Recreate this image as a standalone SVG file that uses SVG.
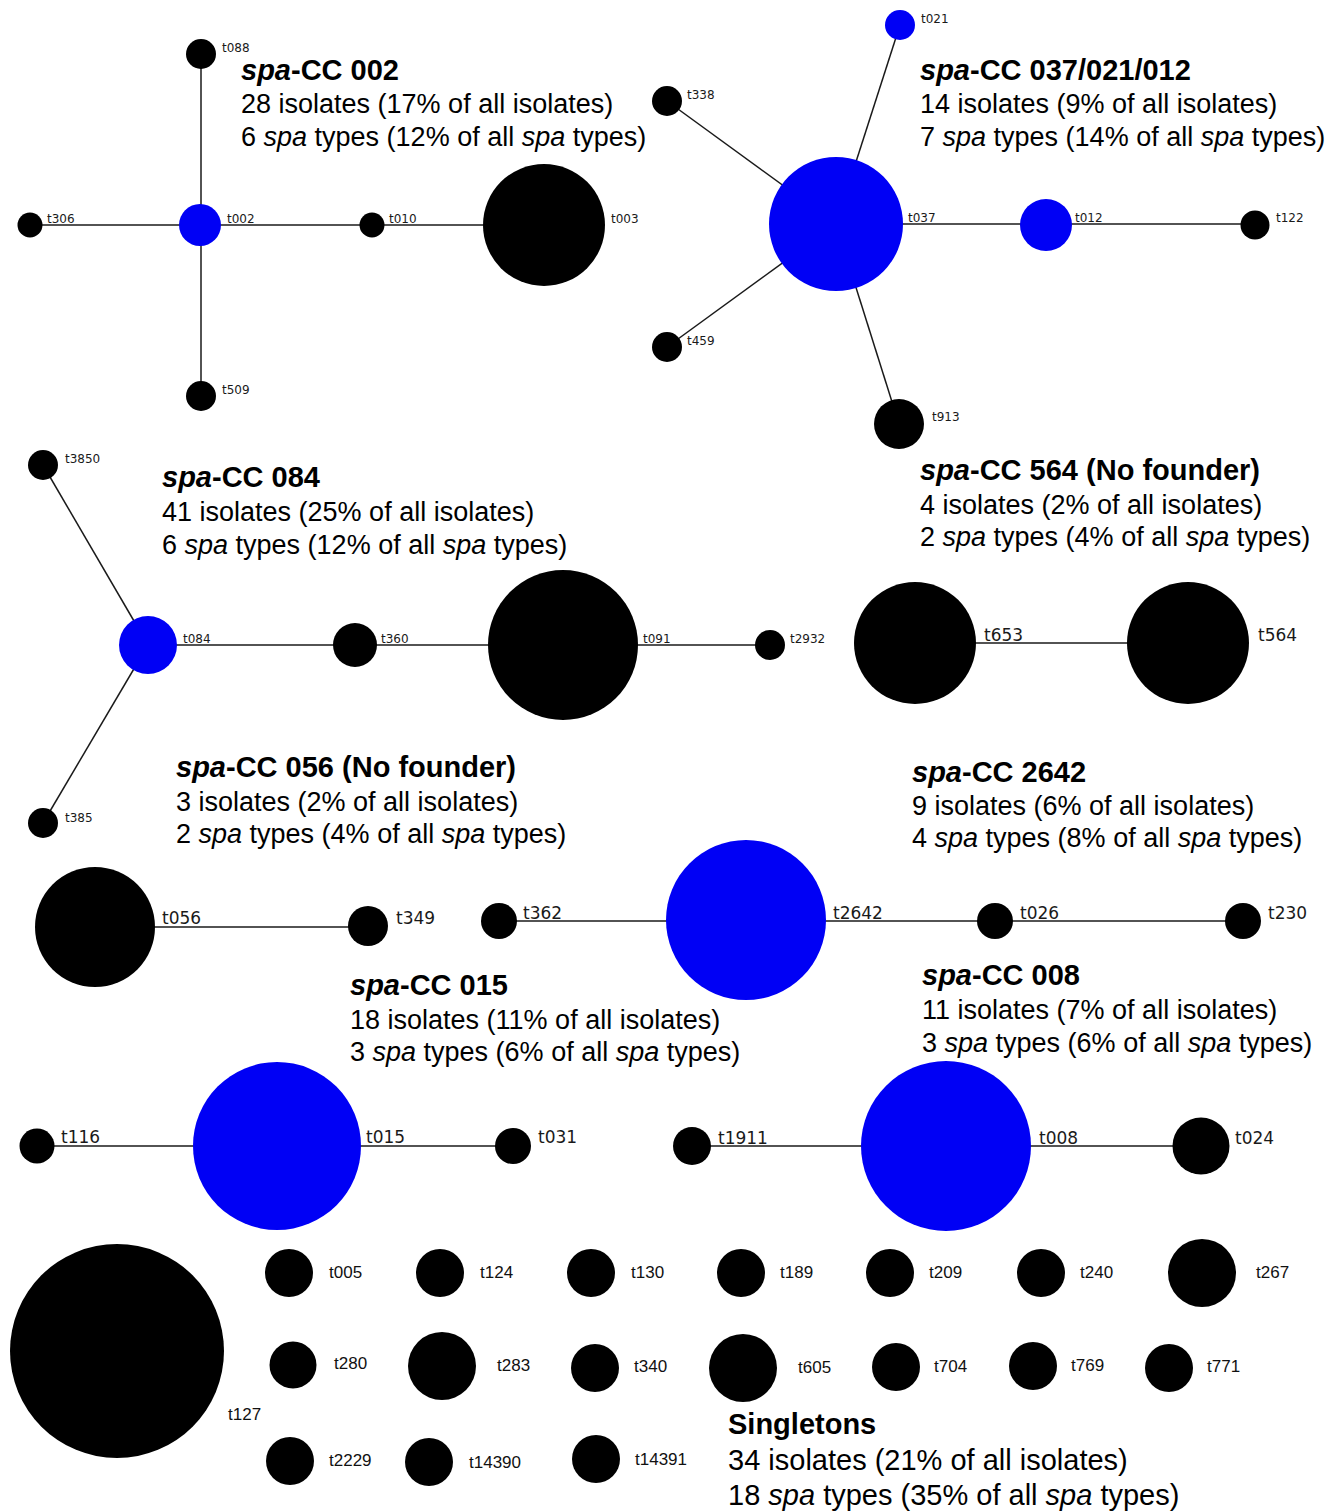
<svg xmlns="http://www.w3.org/2000/svg" width="1329" height="1512" viewBox="0 0 1329 1512">
<style>
.k{fill:#000}
.b{fill:#0000f5}
.e{stroke:#1a1a1a;stroke-width:1.5;fill:none}
.ls{font-family:"DejaVu Sans",Verdana,sans-serif;font-size:12px;fill:#1a1a1a}
.lm{font-family:"DejaVu Sans",Verdana,sans-serif;font-size:17px;fill:#1a1a1a}
.lg{font-family:"Liberation Sans",Arial,sans-serif;font-size:17px;fill:#111}
.t{font-family:"Liberation Sans",Arial,sans-serif;font-size:29px;font-weight:bold;fill:#000}
.d{font-family:"Liberation Sans",Arial,sans-serif;font-size:27px;fill:#000}
.d2{font-family:"Liberation Sans",Arial,sans-serif;font-size:29px;fill:#000}
.i{font-style:italic}
</style>
<rect width="1329" height="1512" fill="#fff"/>

<g id="connectors">
  <!-- spa-CC 002 -->
  <path class="e" d="M201,54 V396"/>
  <path class="e" d="M30,225 H544"/>
  <!-- spa-CC 037/021/012 -->
  <path class="e" d="M836,224 L900,25"/>
  <path class="e" d="M836,224 L667,101"/>
  <path class="e" d="M836,224 L667,347"/>
  <path class="e" d="M836,224 L899,424"/>
  <path class="e" d="M836,224 H1255"/>
  <!-- spa-CC 084 -->
  <path class="e" d="M148,645 L43,465"/>
  <path class="e" d="M148,645 L43,823"/>
  <path class="e" d="M148,645 H770"/>
  <!-- spa-CC 564 -->
  <path class="e" d="M915,643 H1188"/>
  <!-- spa-CC 056 -->
  <path class="e" d="M95,927 H368"/>
  <!-- spa-CC 2642 -->
  <path class="e" d="M499,921 H1243"/>
  <!-- spa-CC 015 -->
  <path class="e" d="M37,1146 H513"/>
  <!-- spa-CC 008 -->
  <path class="e" d="M692,1146 H1201"/>
</g>

<!-- spa-CC 002 -->
<g id="t088"><circle class="k" cx="201" cy="54" r="15"/><text class="ls" x="222" y="52">t088</text></g>
<g id="t306"><circle class="k" cx="30" cy="225" r="12.5"/><text class="ls" x="47" y="223">t306</text></g>
<g id="t002"><circle class="b" cx="200" cy="225" r="21"/><text class="ls" x="227" y="223">t002</text></g>
<g id="t010"><circle class="k" cx="372" cy="225" r="12.5"/><text class="ls" x="389" y="223">t010</text></g>
<g id="t003"><circle class="k" cx="544" cy="225" r="61"/><text class="ls" x="611" y="223">t003</text></g>
<g id="t509"><circle class="k" cx="201" cy="396" r="15"/><text class="ls" x="222" y="394">t509</text></g>
<g id="label-cc002">
  <text class="t" x="241" y="80"><tspan class="i">spa</tspan>-CC 002</text>
  <text class="d" x="241" y="113">28 isolates (17% of all isolates)</text>
  <text class="d" x="241" y="146">6 <tspan class="i">spa</tspan> types (12% of all <tspan class="i">spa</tspan> types)</text>
</g>

<!-- spa-CC 037/021/012 -->
<g id="t021"><circle class="b" cx="900" cy="25" r="15"/><text class="ls" x="921" y="23">t021</text></g>
<g id="t338"><circle class="k" cx="667" cy="101" r="15"/><text class="ls" x="687" y="99">t338</text></g>
<g id="t037"><circle class="b" cx="836" cy="224" r="67"/><text class="ls" x="908" y="222">t037</text></g>
<g id="t012"><circle class="b" cx="1046" cy="225" r="26"/><text class="ls" x="1075" y="222">t012</text></g>
<g id="t122"><circle class="k" cx="1255" cy="225" r="14.5"/><text class="ls" x="1276" y="222">t122</text></g>
<g id="t459"><circle class="k" cx="667" cy="347" r="15"/><text class="ls" x="687" y="345">t459</text></g>
<g id="t913"><circle class="k" cx="899" cy="424" r="25"/><text class="ls" x="932" y="421">t913</text></g>
<g id="label-cc037">
  <text class="t" x="920" y="80"><tspan class="i">spa</tspan>-CC 037/021/012</text>
  <text class="d" x="920" y="113">14 isolates (9% of all isolates)</text>
  <text class="d" x="920" y="146">7 <tspan class="i">spa</tspan> types (14% of all <tspan class="i">spa</tspan> types)</text>
</g>

<!-- spa-CC 084 -->
<g id="t3850"><circle class="k" cx="43" cy="465" r="15"/><text class="ls" x="65" y="463">t3850</text></g>
<g id="t084"><circle class="b" cx="148" cy="645" r="29"/><text class="ls" x="183" y="643">t084</text></g>
<g id="t360"><circle class="k" cx="355" cy="645" r="22"/><text class="ls" x="381" y="643">t360</text></g>
<g id="t091"><circle class="k" cx="563" cy="645" r="75"/><text class="ls" x="643" y="643">t091</text></g>
<g id="t2932"><circle class="k" cx="770" cy="645" r="15"/><text class="ls" x="790" y="643">t2932</text></g>
<g id="t385"><circle class="k" cx="43" cy="823" r="15"/><text class="ls" x="65" y="822">t385</text></g>
<g id="label-cc084">
  <text class="t" x="162" y="487"><tspan class="i">spa</tspan>-CC 084</text>
  <text class="d" x="162" y="521">41 isolates (25% of all isolates)</text>
  <text class="d" x="162" y="554">6 <tspan class="i">spa</tspan> types (12% of all <tspan class="i">spa</tspan> types)</text>
</g>

<!-- spa-CC 564 -->
<g id="t653"><circle class="k" cx="915" cy="643" r="61"/><text class="lm" x="984" y="641">t653</text></g>
<g id="t564"><circle class="k" cx="1188" cy="643" r="61"/><text class="lm" x="1258" y="641">t564</text></g>
<g id="label-cc564">
  <text class="t" x="920" y="480"><tspan class="i">spa</tspan>-CC 564 (No founder)</text>
  <text class="d" x="920" y="514">4 isolates (2% of all isolates)</text>
  <text class="d" x="920" y="546">2 <tspan class="i">spa</tspan> types (4% of all <tspan class="i">spa</tspan> types)</text>
</g>

<!-- spa-CC 056 -->
<g id="t056"><circle class="k" cx="95" cy="927" r="60"/><text class="lm" x="162" y="924">t056</text></g>
<g id="t349"><circle class="k" cx="368" cy="926" r="20"/><text class="lm" x="396" y="924">t349</text></g>
<g id="label-cc056">
  <text class="t" x="176" y="777"><tspan class="i">spa</tspan>-CC 056 (No founder)</text>
  <text class="d" x="176" y="811">3 isolates (2% of all isolates)</text>
  <text class="d" x="176" y="843">2 <tspan class="i">spa</tspan> types (4% of all <tspan class="i">spa</tspan> types)</text>
</g>

<!-- spa-CC 2642 -->
<g id="t362"><circle class="k" cx="499" cy="921" r="18"/><text class="lm" x="523" y="919">t362</text></g>
<g id="t2642"><circle class="b" cx="746" cy="920" r="80"/><text class="lm" x="833" y="919">t2642</text></g>
<g id="t026"><circle class="k" cx="995" cy="921" r="18"/><text class="lm" x="1020" y="919">t026</text></g>
<g id="t230"><circle class="k" cx="1243" cy="921" r="18"/><text class="lm" x="1268" y="919">t230</text></g>
<g id="label-cc2642">
  <text class="t" x="912" y="782"><tspan class="i">spa</tspan>-CC 2642</text>
  <text class="d" x="912" y="815">9 isolates (6% of all isolates)</text>
  <text class="d" x="912" y="847">4 <tspan class="i">spa</tspan> types (8% of all <tspan class="i">spa</tspan> types)</text>
</g>

<!-- spa-CC 015 -->
<g id="t116"><circle class="k" cx="37" cy="1146" r="17.5"/><text class="lm" x="61" y="1143">t116</text></g>
<g id="t015"><circle class="b" cx="277" cy="1146" r="84"/><text class="lm" x="366" y="1143">t015</text></g>
<g id="t031"><circle class="k" cx="513" cy="1146" r="18"/><text class="lm" x="538" y="1143">t031</text></g>
<g id="label-cc015">
  <text class="t" x="350" y="995"><tspan class="i">spa</tspan>-CC 015</text>
  <text class="d" x="350" y="1029">18 isolates (11% of all isolates)</text>
  <text class="d" x="350" y="1061">3 <tspan class="i">spa</tspan> types (6% of all <tspan class="i">spa</tspan> types)</text>
</g>

<!-- spa-CC 008 -->
<g id="t1911"><circle class="k" cx="692" cy="1146" r="19"/><text class="lm" x="718" y="1144">t1911</text></g>
<g id="t008"><circle class="b" cx="946" cy="1146" r="85"/><text class="lm" x="1039" y="1144">t008</text></g>
<g id="t024"><circle class="k" cx="1201" cy="1146" r="28.5"/><text class="lm" x="1235" y="1144">t024</text></g>
<g id="label-cc008">
  <text class="t" x="922" y="985"><tspan class="i">spa</tspan>-CC 008</text>
  <text class="d" x="922" y="1019">11 isolates (7% of all isolates)</text>
  <text class="d" x="922" y="1052">3 <tspan class="i">spa</tspan> types (6% of all <tspan class="i">spa</tspan> types)</text>
</g>

<!-- Singletons -->
<g id="t127"><circle class="k" cx="117" cy="1351" r="107"/><text class="lg" x="228" y="1420">t127</text></g>
<g id="t005"><circle class="k" cx="289" cy="1273" r="24"/><text class="lg" x="329" y="1278">t005</text></g>
<g id="t124"><circle class="k" cx="440" cy="1273" r="24"/><text class="lg" x="480" y="1278">t124</text></g>
<g id="t130"><circle class="k" cx="591" cy="1273" r="24"/><text class="lg" x="631" y="1278">t130</text></g>
<g id="t189"><circle class="k" cx="741" cy="1273" r="24"/><text class="lg" x="780" y="1278">t189</text></g>
<g id="t209"><circle class="k" cx="890" cy="1273" r="24"/><text class="lg" x="929" y="1278">t209</text></g>
<g id="t240"><circle class="k" cx="1041" cy="1273" r="24"/><text class="lg" x="1080" y="1278">t240</text></g>
<g id="t267"><circle class="k" cx="1202" cy="1273" r="34"/><text class="lg" x="1256" y="1278">t267</text></g>
<g id="t280"><circle class="k" cx="293" cy="1365" r="23.5"/><text class="lg" x="334" y="1369">t280</text></g>
<g id="t283"><circle class="k" cx="442" cy="1366" r="34"/><text class="lg" x="497" y="1371">t283</text></g>
<g id="t340"><circle class="k" cx="595" cy="1368" r="24"/><text class="lg" x="634" y="1372">t340</text></g>
<g id="t605"><circle class="k" cx="743" cy="1368" r="34"/><text class="lg" x="798" y="1373">t605</text></g>
<g id="t704"><circle class="k" cx="896" cy="1367" r="24"/><text class="lg" x="934" y="1372">t704</text></g>
<g id="t769"><circle class="k" cx="1033" cy="1366" r="24"/><text class="lg" x="1071" y="1371">t769</text></g>
<g id="t771"><circle class="k" cx="1169" cy="1368" r="24"/><text class="lg" x="1207" y="1372">t771</text></g>
<g id="t2229"><circle class="k" cx="290" cy="1461" r="24"/><text class="lg" x="329" y="1466">t2229</text></g>
<g id="t14390"><circle class="k" cx="429" cy="1462" r="24"/><text class="lg" x="469" y="1468">t14390</text></g>
<g id="t14391"><circle class="k" cx="596" cy="1459" r="24"/><text class="lg" x="635" y="1465">t14391</text></g>
<g id="label-singletons">
  <text class="t" x="728" y="1434">Singletons</text>
  <text class="d2" x="728" y="1470">34 isolates (21% of all isolates)</text>
  <text class="d2" x="728" y="1505">18 <tspan class="i">spa</tspan> types (35% of all <tspan class="i">spa</tspan> types)</text>
</g>
</svg>
